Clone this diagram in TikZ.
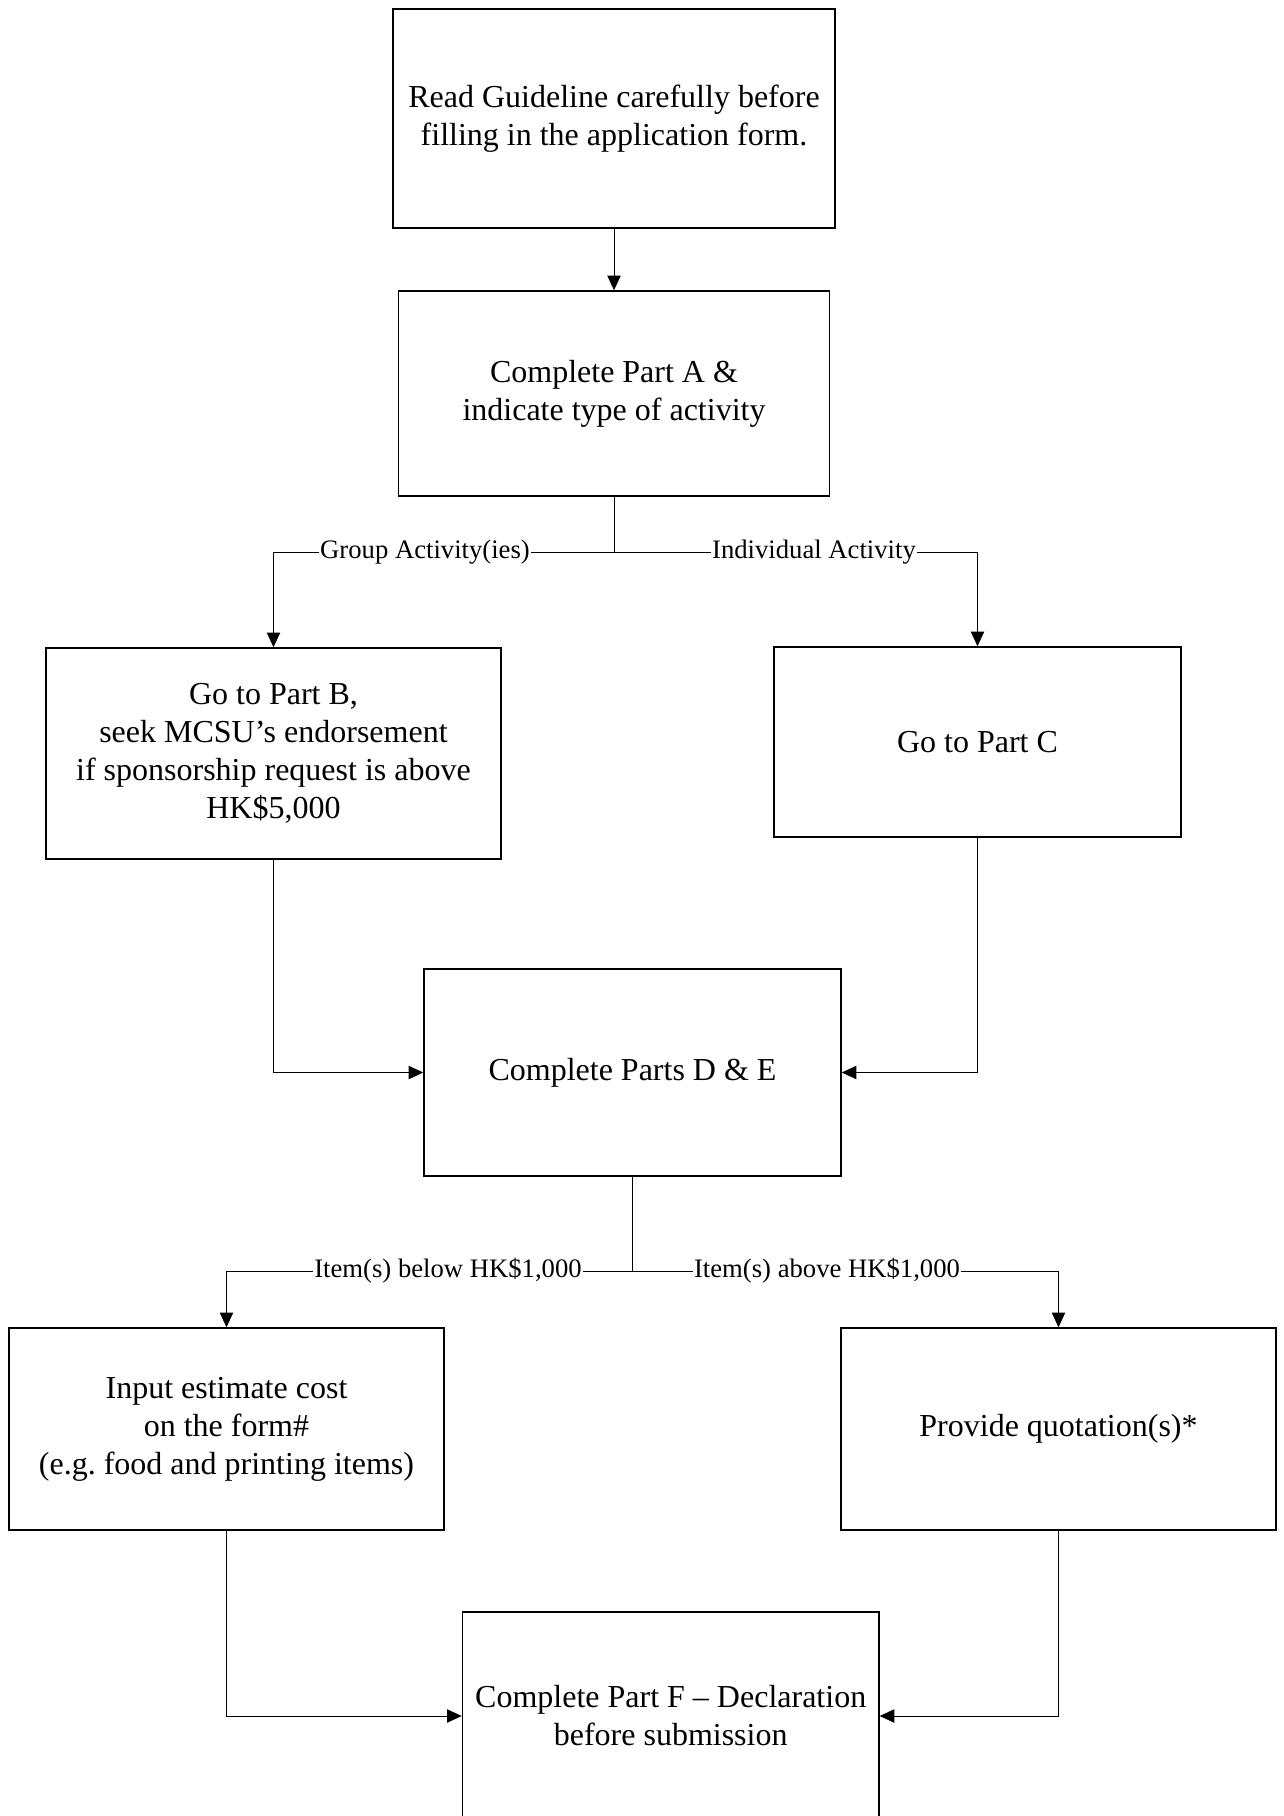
\documentclass[tikz,border=0pt]{standalone}
\usepackage{fontspec}
\setmainfont{Liberation Serif}
\usetikzlibrary{arrows.meta}
\frenchspacing
\begin{document}
\begin{tikzpicture}[x=0.75pt,y=-0.75pt,
  box/.style={draw=black,line width=1.1pt,fill=white,align=center,inner sep=2pt,
    font=\fontsize{24}{28.5}\selectfont},
  ln/.style={draw=black,line width=0.75pt},
  arr/.style={ln,-{Triangle[length=11pt,width=10pt]}},
  lab/.style={fill=white,inner sep=1pt,font=\fontsize{20}{24}\selectfont}]
\fill[white] (0,0) rectangle (1283,1816);
\useasboundingbox (0,0) rectangle (1283,1816);
\node[box,minimum width={442*0.75pt},minimum height={219*0.75pt}] (b1) at (614,118.5)
  {Read Guideline carefully before\\filling in the application form.};
\node[box,minimum width={431*0.75pt},minimum height={205*0.75pt}] (b2) at (614,393.5)
  {Complete Part A \&\\indicate type of activity};
\node[box,minimum width={455*0.75pt},minimum height={211*0.75pt}] (b3) at (273.5,753.5)
  {Go to Part B,\\seek MCSU’s endorsement\\if sponsorship request is above\\HK\$5,000};
\node[box,minimum width={407*0.75pt},minimum height={190*0.75pt}] (b4) at (977.5,742)
  {Go to Part C};
\node[box,minimum width={417*0.75pt},minimum height={207*0.75pt}] (b5) at (632.5,1072.5)
  {Complete Parts D \& E};
\node[box,minimum width={435*0.75pt},minimum height={202*0.75pt}] (b6) at (226.5,1429)
  {Input estimate cost\\on the form\#\\(e.g. food and printing items)};
\node[box,minimum width={435*0.75pt},minimum height={202*0.75pt}] (b7) at (1058.5,1429)
  {Provide quotation(s)*};
\node[box,minimum width={416.5*0.75pt},minimum height={208*0.75pt}] (b8) at (670.7,1716)
  {Complete Part F – Declaration\\before submission};

\coordinate (j1) at (614,552);
\coordinate (j2) at (632.5,1271);

\draw[arr] (b1.south) -- (b2.north);
\draw[ln] (b2.south) -- (j1);
\draw[arr] (j1) -| (b3.north);
\draw[arr] (j1) -| (b4.north);
\node[lab] (l1) at (425,552) {Group Activity(ies)};
\node[lab] (l2) at (814,552) {Individual Activity};

\draw[arr] (b3.south) |- (b5.west);
\draw[arr] (b4.south) |- (b5.east);

\draw[ln] (b5.south) -- (j2);
\draw[arr] (j2) -| (b6.north);
\draw[arr] (j2) -| (b7.north);
\node[lab] (l3) at (448,1271) {Item(s) below HK\$1,000};
\node[lab] (l4) at (827,1271) {Item(s) above HK\$1,000};

\draw[arr] (b6.south) |- (b8.west);
\draw[arr] (b7.south) |- (b8.east);
\end{tikzpicture}
\end{document}
